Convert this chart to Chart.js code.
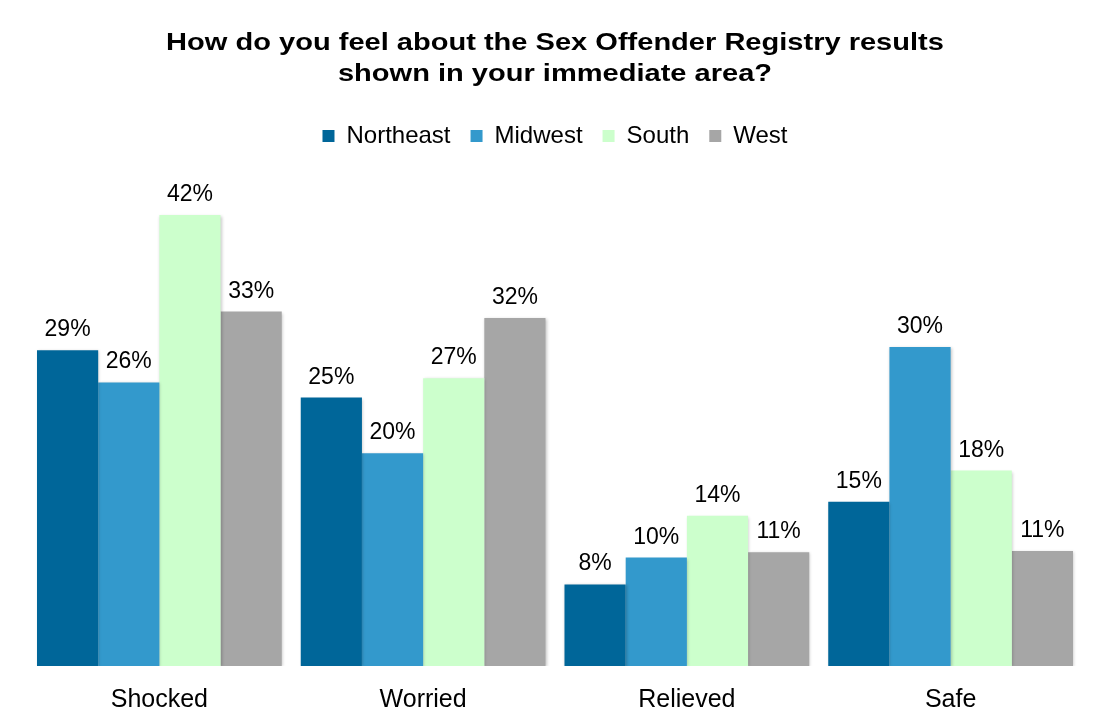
<!DOCTYPE html>
<html>
<head>
<meta charset="utf-8">
<title>Sex Offender Registry</title>
<script src="https://cdn.jsdelivr.net/npm/chart.js@4"></script>
<style>
    body { margin: 0; background: #ffffff; }
    #wrap { width: 1110px; height: 727px; }
</style>
</head>
<body>
<div id="wrap"><canvas id="regionChart" width="1110" height="727"></canvas></div>
<script>
// data
const categories = ['Shocked', 'Worried', 'Relieved', 'Safe'];
const northeast = [29.4, 25.0, 7.6, 15.3];
const midwest   = [26.4, 19.8, 10.1, 29.7];
const south     = [42.0, 26.8, 14.0, 18.2];
const west      = [33.0, 32.4, 10.6, 10.7];

const titleLines = ['How do you feel about the Sex Offender Registry results', 'shown in your immediate area?'];

const fontFamily = '"Liberation Sans", Arial, sans-serif';

// title is drawn by hand: the original lettering is wider than Arial
const wideTitle = {
    id: 'wideTitle',
    afterDraw(chart) {
        const ctx = chart.ctx;
        const cx = chart.width / 2;
        const baselines = [50, 81];
        ctx.save();
        ctx.font = 'bold 24px ' + fontFamily;
        ctx.fillStyle = '#000000';
        ctx.textAlign = 'center';
        ctx.textBaseline = 'alphabetic';
        titleLines.forEach((line, i) => {
            ctx.save();
            ctx.translate(cx, baselines[i]);
            ctx.scale(1.21, 1);
            ctx.fillText(line, 0, 0);
            ctx.restore();
        });
        ctx.restore();
    }
};

// labels above each bar
const barLabels = {
    id: 'barLabels',
    afterDatasetsDraw(chart) {
        const ctx = chart.ctx;
        ctx.save();
        ctx.font = '23px ' + fontFamily;
        ctx.fillStyle = '#000000';
        ctx.textAlign = 'center';
        ctx.textBaseline = 'alphabetic';
        chart.data.datasets.forEach((ds, i) => {
            chart.getDatasetMeta(i).data.forEach((bar, j) => {
                ctx.fillText(Math.round(ds.data[j]) + '%', bar.x, bar.y - 14);
            });
        });
        ctx.restore();
    }
};

// soft shadow under the bars
const barShadow = {
    id: 'barShadow',
    beforeDatasetsDraw(chart) {
        const ctx = chart.ctx;
        ctx.save();
        ctx.shadowColor = 'rgba(0, 0, 0, 0.22)';
        ctx.shadowBlur = 3;
        ctx.shadowOffsetX = 1;
        ctx.shadowOffsetY = 1;
    },
    afterDatasetsDraw(chart) {
        chart.ctx.restore();
    }
};

const ctx = document.getElementById('regionChart').getContext('2d');
new Chart(ctx, {
    type: 'bar',
    data: {
        labels: categories,
        datasets: [
            { label: 'Northeast', data: northeast, backgroundColor: '#006699' },
            { label: 'Midwest',   data: midwest,   backgroundColor: '#3399cc' },
            { label: 'South',     data: south,     backgroundColor: '#ccffcc' },
            { label: 'West',      data: west,      backgroundColor: '#a6a6a6' }
        ]
    },
    options: {
        responsive: false,
        animation: false,
        layout: { padding: { left: 27.5, right: 27.5, top: 104, bottom: 0 } },
        datasets: {
            bar: { categoryPercentage: 0.928, barPercentage: 1.0, borderWidth: 0 }
        },
        plugins: {
            title: { display: false },
            legend: {
                position: 'top',
                labels: {
                    color: '#000000',
                    font: { family: fontFamily, size: 24 },
                    boxWidth: 12,
                    boxHeight: 12,
                    padding: 20
                }
            },
            tooltip: { enabled: false }
        },
        scales: {
            x: {
                grid: { display: false, drawTicks: false },
                border: { display: false },
                ticks: {
                    color: '#000000',
                    font: { family: fontFamily, size: 25 },
                    padding: 19
                },
                afterFit(scale) {
                    scale.height = 61;
                }
            },
            y: {
                display: false,
                min: 0,
                max: 47.3
            }
        }
    },
    plugins: [barShadow, barLabels, wideTitle]
});
</script>
</body>
</html>
